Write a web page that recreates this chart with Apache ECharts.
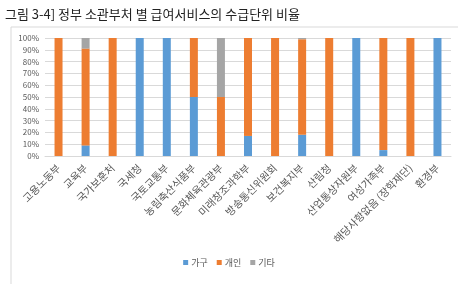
<!DOCTYPE html>
<html>
<head>
<meta charset="utf-8">
<script src="https://cdn.jsdelivr.net/npm/echarts@6/dist/echarts.min.js"></script>
<style>
html,body{margin:0;padding:0;background:#fff;}
#Charts{width:458px;height:284px;}
</style>
</head>
<body>
<div id="Charts"></div>
<script>
var categories = ['고용노동부','교육부','국가보훈처','국세청','국토교통부','농림축산식품부','문화체육관광부','미래창조과학부','방송통신위원회','보건복지부','산림청','산업통상자원부','여성가족부','해당사항없음 (장학재단)','환경부'];
var household = [0, 9, 0, 100, 100, 50, 0, 17, 0, 18, 0, 100, 5, 0, 100];
var individual = [100, 82, 100, 0, 0, 50, 50, 83, 100, 81, 100, 0, 95, 100, 0];
var other = [0, 9, 0, 0, 0, 0, 50, 0, 0, 1, 0, 0, 0, 0, 0];
var seriesNames = ['가구','개인','기타'];
var titleText = '그림 3-4] 정부 소관부처 별 급여서비스의 수급단위 비율';

init();
function init(){
	var font = '"Noto Sans CJK KR", sans-serif';
	var option = {
		animation: false,
		textStyle: { fontFamily: font },
		title: {
			text: titleText,
			left: 0,
			top: 3,
			textStyle: { fontSize: 13, fontWeight: 'normal', color: '#222', fontFamily: font }
		},
		graphic: [{
			type: 'rect',
			shape: { x: 11, y: 27, width: 460, height: 260 },
			style: { fill: 'none', stroke: '#d9d9d9', lineWidth: 1 },
			silent: true
		}],
		legend: {
			data: seriesNames,
			bottom: 12,
			left: 'center',
			itemWidth: 5,
			itemHeight: 5,
			itemGap: 9,
			icon: 'rect',
			textStyle: { fontSize: 9, color: '#595959', fontFamily: font, padding: [0, 0, 0, -2] }
		},
		color: ['#5B9BD5', '#ED7D31', '#A5A5A5'],
		grid: {
			left: 45,
			right: 7,
			top: 38,
			height: 118
		},
		xAxis: [{
			type: 'category',
			data: categories,
			axisTick: { show: false },
			axisLine: { lineStyle: { color: '#d9d9d9' } },
			axisLabel: { rotate: 45, fontSize: 10.5, color: '#595959', interval: 0, margin: 10 }
		}],
		yAxis: [{
			type: 'value',
			min: 0,
			max: 100,
			interval: 10,
			axisLine: { show: false },
			axisTick: { show: false },
			splitLine: { lineStyle: { color: '#d9d9d9' } },
			axisLabel: { fontSize: 8, color: '#595959', formatter: '{value}%', margin: 6 }
		}],
		series: [
			{ name: seriesNames[0], type: 'bar', stack: 'total', barWidth: 8, data: household },
			{ name: seriesNames[1], type: 'bar', stack: 'total', barWidth: 8, data: individual },
			{ name: seriesNames[2], type: 'bar', stack: 'total', barWidth: 8, data: other }
		]
	};
	var myChart = echarts.init(document.getElementById('Charts'));
	myChart.setOption(option);
}
</script>
</body>
</html>
